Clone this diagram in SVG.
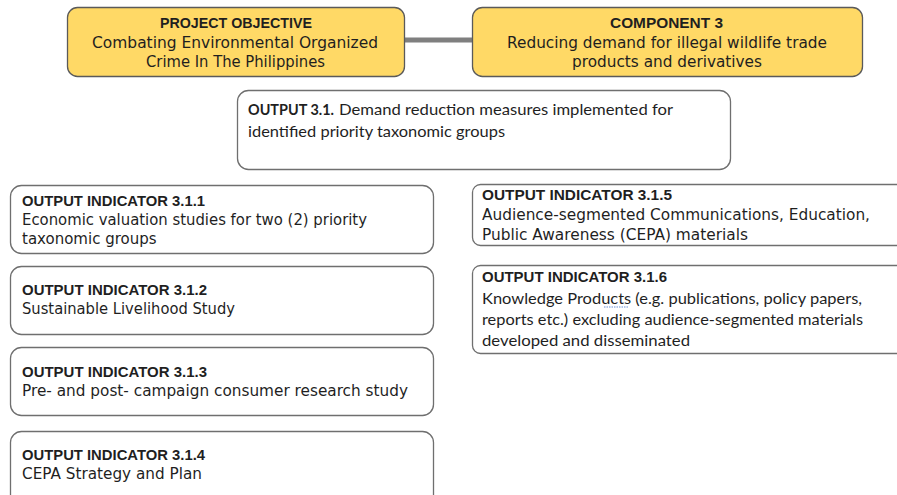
<svg xmlns="http://www.w3.org/2000/svg" width="897" height="495" viewBox="0 0 897 495">
<defs>
<style>
.y{fill:#FFD966;stroke:#5a5a5a;stroke-width:1.3}
.w{fill:#ffffff;stroke:#6f6f6f;stroke-width:1.3}
text{fill:#1f1f1f}
.g{font-family:"DejaVu Sans","Liberation Sans",sans-serif;font-size:15px}
.gb{font-family:"Liberation Sans",Arial,sans-serif;font-size:15px;font-weight:bold}
.c{font-family:Lato,"Liberation Sans",sans-serif;font-size:16px}
.m{text-anchor:middle}
</style>
</defs>
<rect width="897" height="495" fill="#ffffff"/>
<g id="connectors">
<line x1="405" y1="40" x2="472" y2="40" stroke="#7f7f7f" stroke-width="5"/>
</g>
<g id="project-objective">
<rect class="y" x="67.5" y="7.5" width="337" height="69" rx="10"/>
<text class="gb m" x="236" y="28" textLength="152" lengthAdjust="spacingAndGlyphs">PROJECT OBJECTIVE</text>
<text class="g m" x="235" y="48" font-size="16" textLength="286" lengthAdjust="spacingAndGlyphs">Combating Environmental Organized</text>
<text class="g m" x="235.5" y="67" font-size="16" textLength="179" lengthAdjust="spacingAndGlyphs">Crime In The Philippines</text>
</g>
<g id="component-3">
<rect class="y" x="472.5" y="7.5" width="390" height="69" rx="10"/>
<text class="gb m" x="666.5" y="28" textLength="113" lengthAdjust="spacingAndGlyphs">COMPONENT 3</text>
<text class="g m" x="667" y="48" font-size="16" textLength="320" lengthAdjust="spacingAndGlyphs">Reducing demand for illegal wildlife trade</text>
<text class="g m" x="667" y="67" font-size="16" textLength="190" lengthAdjust="spacingAndGlyphs">products and derivatives</text>
</g>
<g id="output-3-1">
<rect class="w" x="237.5" y="90.5" width="493" height="79" rx="11"/>
<text class="c" x="248" y="115" font-weight="bold" textLength="86" lengthAdjust="spacingAndGlyphs">OUTPUT 3.1.</text>
<text class="c" x="339" y="115" textLength="334" lengthAdjust="spacingAndGlyphs">Demand reduction measures implemented for</text>
<text class="c" x="248" y="137" textLength="257" lengthAdjust="spacingAndGlyphs">identified priority taxonomic groups</text>
</g>
<g id="oi-3-1-1">
<rect class="w" x="10.5" y="185.5" width="423" height="68" rx="11"/>
<text class="gb" x="22" y="206" textLength="183" lengthAdjust="spacingAndGlyphs">OUTPUT INDICATOR 3.1.1</text>
<text class="g" x="22" y="225" textLength="345" lengthAdjust="spacingAndGlyphs">Economic valuation studies for two (2) priority</text>
<text class="g" x="22" y="244">taxonomic groups</text>
</g>
<g id="oi-3-1-2">
<rect class="w" x="10.5" y="266.5" width="423" height="68" rx="11"/>
<text class="gb" x="22" y="295" textLength="185" lengthAdjust="spacingAndGlyphs">OUTPUT INDICATOR 3.1.2</text>
<text class="g" x="22" y="314" textLength="213" lengthAdjust="spacingAndGlyphs">Sustainable Livelihood Study</text>
</g>
<g id="oi-3-1-3">
<rect class="w" x="10.5" y="347.5" width="423" height="68" rx="11"/>
<text class="gb" x="22" y="377" textLength="185" lengthAdjust="spacingAndGlyphs">OUTPUT INDICATOR 3.1.3</text>
<text class="g" x="22" y="396" textLength="386" lengthAdjust="spacingAndGlyphs">Pre- and post- campaign consumer research study</text>
</g>
<g id="oi-3-1-4">
<rect class="w" x="10.5" y="431.5" width="423" height="80" rx="11"/>
<text class="gb" x="22" y="460" textLength="183" lengthAdjust="spacingAndGlyphs">OUTPUT INDICATOR 3.1.4</text>
<text class="g" x="22" y="479" textLength="180" lengthAdjust="spacingAndGlyphs">CEPA Strategy and Plan</text>
</g>
<g id="oi-3-1-5">
<rect class="w" x="472.5" y="184.5" width="440" height="61" rx="8"/>
<text class="gb" x="482" y="200" textLength="190" lengthAdjust="spacingAndGlyphs">OUTPUT INDICATOR 3.1.5</text>
<text class="g" x="482" y="220" textLength="388" lengthAdjust="spacingAndGlyphs">Audience-segmented Communications, Education,</text>
<text class="g" x="482" y="240" textLength="266" lengthAdjust="spacingAndGlyphs">Public Awareness (CEPA) materials</text>
</g>
<g id="oi-3-1-6">
<rect class="w" x="472.5" y="265.5" width="440" height="88" rx="8"/>
<text class="gb" x="482" y="282" textLength="185" lengthAdjust="spacingAndGlyphs">OUTPUT INDICATOR 3.1.6</text>
<text class="c" x="482" y="304" textLength="380" lengthAdjust="spacingAndGlyphs">Knowledge Products (e.g. publications, policy papers,</text>
<text class="c" x="482" y="325" textLength="381" lengthAdjust="spacingAndGlyphs">reports etc.) excluding audience-segmented materials</text>
<text class="c" x="482" y="346" textLength="208" lengthAdjust="spacingAndGlyphs">developed and disseminated</text>
<line x1="604" y1="307" x2="628" y2="307" stroke="#6b8fd6" stroke-width="1.2" stroke-dasharray="1.5 1"/>
</g>
</svg>
